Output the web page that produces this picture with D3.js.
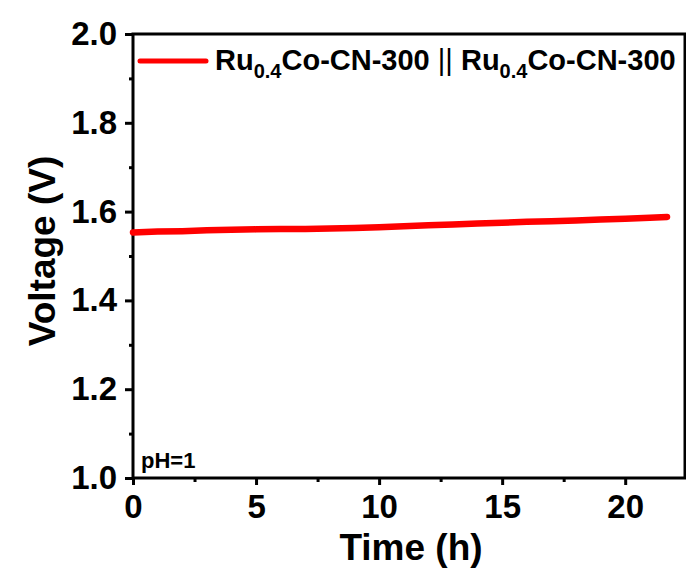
<!DOCTYPE html>
<html>
<head>
<meta charset="utf-8">
<script src="https://cdn.jsdelivr.net/npm/d3@7"></script>
<style>
  body { margin: 0; background: #fff; }
  svg text { font-family: "Liberation Sans", Arial, sans-serif; font-weight: bold; fill: #000; }
</style>
</head>
<body>
<div id="chart"></div>
<script>
// data
const timeH = [0, 1, 2, 3, 4, 5, 6, 7, 8, 9, 10, 11, 12, 13, 14, 15, 16, 17, 18, 19, 20, 21, 21.7];
const voltage = [1.553, 1.555, 1.556, 1.558, 1.559, 1.560, 1.561, 1.561, 1.562, 1.563, 1.565, 1.567,
                 1.569, 1.571, 1.573, 1.575, 1.577, 1.578, 1.580, 1.582, 1.584, 1.586, 1.588];
const xTicks = [0, 5, 10, 15, 20];
const xMinor = [2.5, 7.5, 12.5, 17.5];
const yTicks = [1.0, 1.2, 1.4, 1.6, 1.8, 2.0];
const yMinor = [1.1, 1.3, 1.5, 1.7, 1.9];
// legend pieces: text, kind (n = normal, s = subscript, b = separator)
const seriesName = [["Ru", "n"], ["0.4", "s"], ["Co-CN-300 ", "n"], ["||", "b"],
                    [" Ru", "n"], ["0.4", "s"], ["Co-CN-300", "n"]];

const width = 686, height = 572;
const margin = {left: 133, right: 1, top: 34, bottom: 94};

const svg = d3.select('#chart').append('svg')
    .attr('width', width)
    .attr('height', height);

const x = d3.scaleLinear().domain([0, 22.43]).range([margin.left, width - margin.right]);
const y = d3.scaleLinear().domain([1, 2]).range([height - margin.bottom, margin.top]);

//frame
svg.append('rect')
    .attr('x', x.range()[0]).attr('y', y.range()[1])
    .attr('width', x.range()[1] - x.range()[0])
    .attr('height', y.range()[0] - y.range()[1])
    .attr('fill', 'none').attr('stroke', '#000').attr('stroke-width', 3);

//bottom axis
const gx = svg.append('g')
    .attr('transform', 'translate(0,' + y(1) + ')')
    .call(d3.axisBottom(x).tickValues(xTicks).tickSize(7).tickPadding(10).tickFormat(d3.format('d')));
gx.append('g').call(d3.axisBottom(x).tickValues(xMinor).tickSize(4).tickFormat(''));
gx.selectAll('.domain').remove();
gx.selectAll('line').attr('stroke-width', 3);
gx.selectAll('text').style('font-size', '33px');

//left axis
const gy = svg.append('g')
    .attr('transform', 'translate(' + x(0) + ',0)')
    .call(d3.axisLeft(y).tickValues(yTicks).tickSize(8).tickPadding(8).tickFormat(d3.format('.1f')));
gy.append('g').call(d3.axisLeft(y).tickValues(yMinor).tickSize(4).tickFormat(''));
gy.selectAll('.domain').remove();
gy.selectAll('line').attr('stroke-width', 3);
gy.selectAll('text').style('font-size', '33px');

// axis titles
svg.append('text')
    .attr('x', 411).attr('y', 560)
    .attr('text-anchor', 'middle')
    .style('font-size', '37px')
    .text('Time (h)');

svg.append('text')
    .attr('transform', 'translate(55,251) rotate(-90)')
    .attr('text-anchor', 'middle')
    .style('font-size', '37px')
    .text('Voltage (V)');

// series
const line = d3.line()
    .x((d, i) => x(timeH[i]))
    .y(d => y(d));

svg.append('path')
    .attr('d', line(voltage))
    .attr('fill', 'none')
    .attr('stroke', '#ff0000')
    .attr('stroke-width', 6.5)
    .attr('stroke-linecap', 'round')
    .attr('stroke-linejoin', 'round');

// legend
svg.append('line')
    .attr('x1', 140).attr('x2', 206)
    .attr('y1', 61).attr('y2', 61)
    .attr('stroke', '#ff0000')
    .attr('stroke-width', 5)
    .attr('stroke-linecap', 'round');

const legendText = svg.append('text')
    .attr('x', 215).attr('y', 70)
    .attr('xml:space', 'preserve')
    .style('font-size', '29px')
    .style('white-space', 'pre');
let prevSub = false;
seriesName.forEach(([s, kind]) => {
    const sub = kind === 's';
    legendText.append('tspan')
        .attr('dy', sub ? 8 : (prevSub ? -8 : 0))
        .style('font-size', sub ? '20px' : '29px')
        .style('font-weight', kind === 'b' ? 'normal' : 'bold')
        .text(s);
    prevSub = sub;
});

// annotation
svg.append('text')
    .attr('x', 141).attr('y', 468)
    .style('font-size', '22px')
    .text('pH=1');
</script>
</body>
</html>
